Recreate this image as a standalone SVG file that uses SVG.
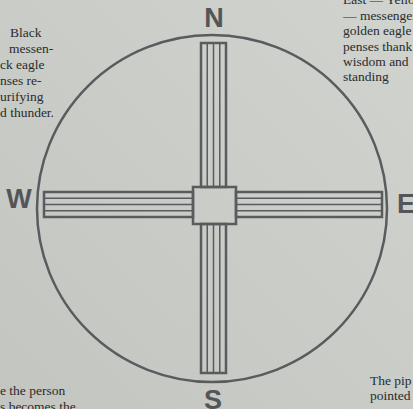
<svg xmlns="http://www.w3.org/2000/svg" width="413" height="409" viewBox="0 0 413 409">
<defs>
<style>
.page{font-family:"Liberation Serif","Times New Roman",serif;font-size:13.5px;fill:#2a2b2d}
.dir{font-family:"Liberation Sans",Arial,sans-serif;font-weight:bold;font-size:27px;fill:#545558;text-anchor:middle}
.outer{fill:none;stroke:#5a5b5e;stroke-width:2.5}
.inner{fill:none;stroke:#5a5b5e;stroke-width:1.5}
</style>
<linearGradient id="bg" x1="1" y1="0" x2="0" y2="1">
<stop offset="0" stop-color="#d0d3ce"/>
<stop offset="1" stop-color="#c2c5c0"/>
</linearGradient>
</defs>
<rect width="413" height="409" fill="url(#bg)"/>
<g id="page-text" class="page">
<text x="10" y="37">Black</text>
<text x="9" y="53">messen-</text>
<text x="0" y="69">ck eagle</text>
<text x="0" y="85">nses re-</text>
<text x="0" y="101">urifying</text>
<text x="0" y="117">d thunder.</text>
<text x="343" y="4">East — Yello</text>
<text x="343" y="20">— messenger</text>
<text x="343" y="35">golden eagle</text>
<text x="343" y="51">penses thank</text>
<text x="343" y="66">wisdom and</text>
<text x="343" y="81">standing</text>
<text x="0" y="395">e the person</text>
<text x="0" y="411">s becomes the</text>
<text x="370" y="385">The pip</text>
<text x="370" y="400">pointed</text>
</g>
<g id="circle">
<ellipse cx="212" cy="208.5" rx="175" ry="173.5" fill="none" stroke="#5a5b5e" stroke-width="2.5"/>
</g>
<g id="connectors">
<g id="arm-n">
<rect class="outer" x="201" y="43" width="25" height="144"/>
<path class="inner" d="M207.25,43V187M213.5,43V187M219.75,43V187"/>
</g>
<g id="arm-s">
<rect class="outer" x="201" y="224" width="25" height="149"/>
<path class="inner" d="M207.25,224V373M213.5,224V373M219.75,224V373"/>
</g>
<g id="arm-w">
<rect class="outer" x="44" y="192" width="149" height="25"/>
<path class="inner" d="M44,198.25H193M44,204.5H193M44,210.75H193"/>
</g>
<g id="arm-e">
<rect class="outer" x="236" y="192" width="146" height="25"/>
<path class="inner" d="M236,198.25H382M236,204.5H382M236,210.75H382"/>
</g>
</g>
<g id="center">
<rect class="outer" x="193" y="187" width="43" height="37"/>
</g>
<g id="label-n"><text class="dir" x="214" y="27">N</text></g>
<g id="label-s"><text class="dir" x="213" y="409">S</text></g>
<g id="label-w"><text class="dir" x="19" y="208">W</text></g>
<g id="label-e"><text class="dir" x="406" y="213">E</text></g>
</svg>
